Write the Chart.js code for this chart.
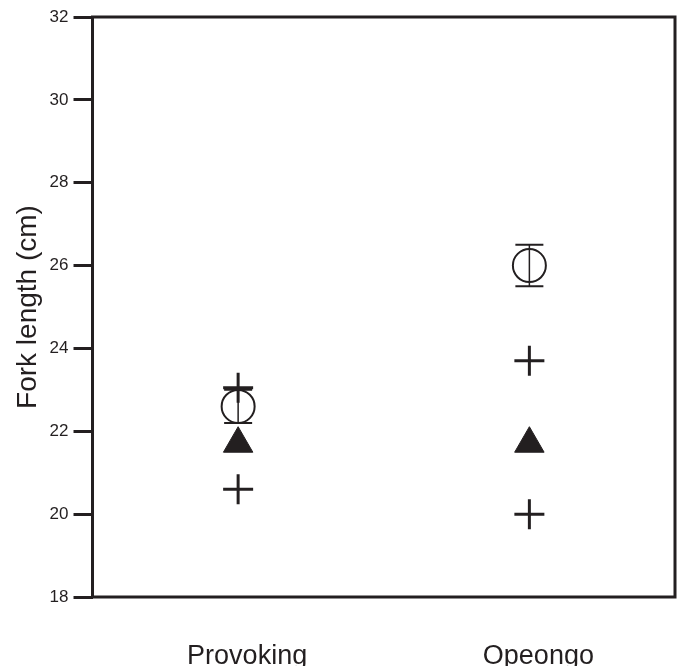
<!DOCTYPE html>
<html>
<head>
<meta charset="utf-8">
<title>Fork length</title>
<script src="https://cdn.jsdelivr.net/npm/chart.js@4.4.1/dist/chart.umd.min.js"></script>
<style>
  html, body { margin: 0; padding: 0; background: #fff; }
  #chart-container { width: 678px; height: 666px; position: relative; }
</style>
</head>
<body>
<div id="chart-container">
  <canvas id="forkChart"></canvas>
</div>
<script>
// Data
const lakes = ["Provoking", "Opeongo"];
const meanLength = [22.6, 26.0];
const meanError = [0.4, 0.5];
const upperCross = [23.05, 23.7];
const triangleValue = [21.7, 21.7];
const lowerCross = [20.6, 20.0];
const yTicks = [18, 20, 22, 24, 26, 28, 30, 32];

const INK = "#231f20";
const FONT = 'Arial, "Liberation Sans", Helvetica, sans-serif';

// Draws the closed box around the plotting area
const framePlugin = {
  id: "frame",
  afterDraw(chart) {
    const { ctx, chartArea } = chart;
    ctx.save();
    ctx.strokeStyle = INK;
    ctx.lineWidth = 3;
    ctx.strokeRect(chartArea.left, chartArea.top,
      chartArea.right - chartArea.left, chartArea.bottom - chartArea.top);
    ctx.restore();
  }
};

// Error bars for the mean series, positioned through the y scale
const errorBarPlugin = {
  id: "errorBars",
  afterDatasetsDraw(chart) {
    const { ctx } = chart;
    const yScale = chart.scales.y;
    const meta = chart.getDatasetMeta(0);
    ctx.save();
    ctx.strokeStyle = INK;
    meta.data.forEach((pt, i) => {
      const top = yScale.getPixelForValue(meanLength[i] + meanError[i]);
      const bottom = yScale.getPixelForValue(meanLength[i] - meanError[i]);
      ctx.lineWidth = 1.5;
      ctx.beginPath();
      ctx.moveTo(pt.x, top);
      ctx.lineTo(pt.x, bottom);
      ctx.stroke();
      ctx.lineWidth = 2;
      ctx.beginPath();
      ctx.moveTo(pt.x - 14, top);
      ctx.lineTo(pt.x + 14, top);
      ctx.moveTo(pt.x - 14, bottom);
      ctx.lineTo(pt.x + 14, bottom);
      ctx.stroke();
    });
    ctx.restore();
  }
};

function pointSet(label, data, style, radius, width, fill) {
  return {
    label: label,
    data: data,
    showLine: false,
    pointStyle: style,
    pointRadius: radius,
    pointHoverRadius: radius,
    pointBorderWidth: width,
    pointBorderColor: INK,
    pointBackgroundColor: fill
  };
}

const ctx = document.getElementById("forkChart").getContext("2d");
new Chart(ctx, {
  type: "line",
  data: {
    labels: lakes,
    datasets: [
      pointSet("Mean", meanLength, "circle", 16.5, 2, "rgba(0,0,0,0)"),
      pointSet("Upper", upperCross, "cross", 15, 3, INK),
      pointSet("Triangle", triangleValue, "triangle", 17, 1, INK),
      pointSet("Lower", lowerCross, "cross", 15, 3, INK)
    ]
  },
  options: {
    responsive: true,
    maintainAspectRatio: false,
    animation: false,
    layout: {
      autoPadding: false,
      padding: { left: 7, right: 3, top: 17, bottom: 0 }
    },
    plugins: {
      legend: { display: false },
      tooltip: { enabled: false }
    },
    scales: {
      x: {
        offset: true,
        grid: { display: false, drawTicks: false },
        border: { display: false },
        afterFit(scale) {
          scale.height = 69;
        },
        ticks: {
          color: INK,
          font: { family: FONT, size: 27 },
          padding: 43,
          labelOffset: 9,
          maxRotation: 0
        }
      },
      y: {
        min: 18,
        max: 32,
        afterBuildTicks(scale) {
          scale.ticks = yTicks.map(v => ({ value: v }));
        },
        grid: {
          drawOnChartArea: false,
          tickLength: 19,
          tickWidth: 3,
          tickColor: INK
        },
        border: { display: false },
        ticks: {
          color: INK,
          font: { family: FONT, size: 17 },
          padding: 5
        },
        title: {
          display: true,
          text: "Fork length (cm)",
          color: INK,
          font: { family: FONT, size: 28 },
          padding: { top: 4, bottom: 0 }
        }
      }
    }
  },
  plugins: [framePlugin, errorBarPlugin]
});
</script>
</body>
</html>
